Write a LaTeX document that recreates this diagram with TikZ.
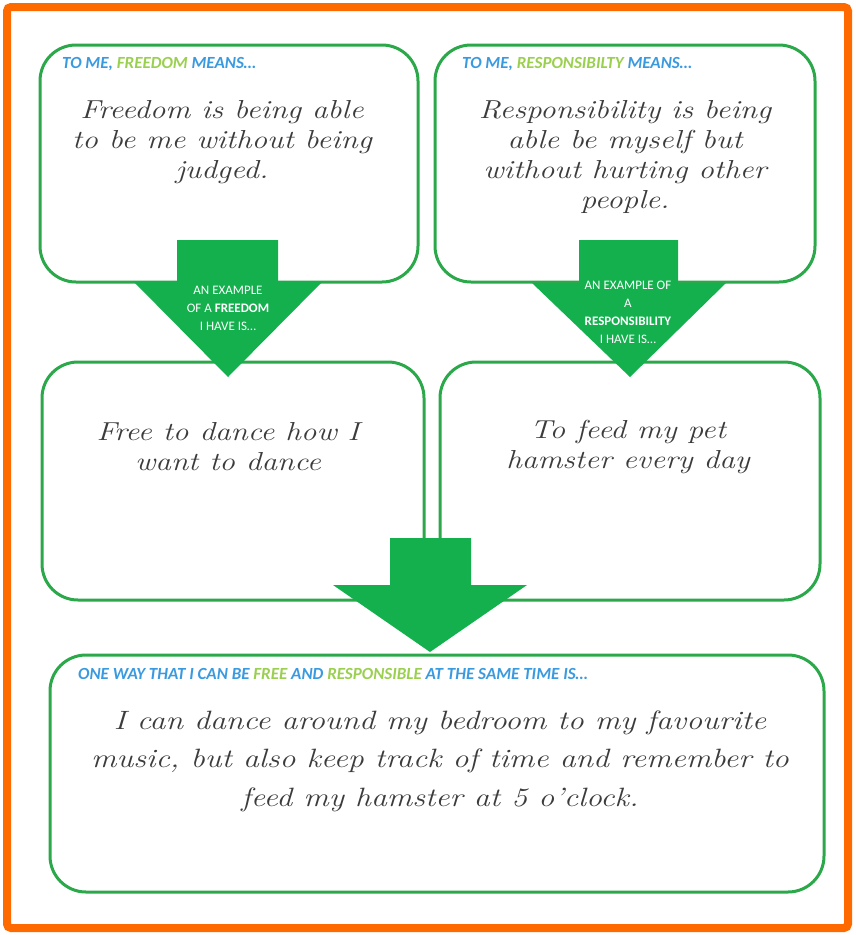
\documentclass[tikz,border=0pt]{standalone}
\usepackage{fontspec}
\newfontfamily\hdr{Carlito}
\newfontfamily\wideit{Latin Modern Roman}[FakeStretch=1.2]
\definecolor{orangeb}{HTML}{FF6A00}
\definecolor{boxg}{HTML}{2BA84A}
\definecolor{arrg}{HTML}{14B04E}
\definecolor{hblue}{HTML}{3A9AE0}
\definecolor{hgreen}{HTML}{9BCF4F}
\definecolor{txt}{HTML}{3C3C3C}
\tikzset{
  card/.style={draw=boxg, line width=3pt, rounded corners=36pt, fill=white, inner sep=0pt},
  hdrtext/.style={anchor=west, inner sep=0pt, font=\hdr\bfseries\itshape\fontsize{17}{18}\selectfont, text=hblue},
  maintext/.style={align=center, inner sep=0pt, text=txt, font=\wideit\itshape\fontsize{26}{30}\selectfont},
  bigtext/.style={align=center, inner sep=0pt, text=txt, font=\wideit\itshape\fontsize{26.5}{38.5}\selectfont},
  arrtext/.style={align=center, inner sep=0pt, text=white, font=\hdr\fontsize{13}{18}\selectfont},
  bigarrow/.style={fill=arrg, draw=none},
}
\begin{document}
\begin{tikzpicture}[x=1pt,y=-1pt]
\useasboundingbox (0,0) rectangle (855,935);
\fill[white] (0,0) rectangle (855,935);
\node[draw=orangeb, line width=8pt, rounded corners=4pt, minimum width=841pt, minimum height=921pt, inner sep=0pt] (frame) at (427.5,467.5) {};

% boxes
\node[card, minimum width=378pt, minimum height=237pt] (b1) at (229,163.5) {};
\node[card, minimum width=380pt, minimum height=237pt] (b2) at (625,163.5) {};
\node[card, minimum width=382pt, minimum height=238pt] (b3) at (233,481) {};
\node[card, minimum width=380pt, minimum height=238pt] (b4) at (630,481) {};
\node[card, minimum width=774pt, minimum height=237pt] (b5) at (437,773.5) {};

% arrows
\coordinate (a1) at (228,240);
\fill[bigarrow] (177,240) -- (278,240) -- (278,281) -- (323,281) -- (228,377) -- (133,281) -- (177,281) -- cycle;
\coordinate (a2) at (628,240);
\fill[bigarrow] (579,240) -- (678,240) -- (678,283) -- (726,283) -- (630,377) -- (532,283) -- (579,283) -- cycle;
\coordinate (a3) at (430,538);
\fill[bigarrow] (390,538) -- (471,538) -- (471,585) -- (527,585) -- (430,652) -- (333,585) -- (390,585) -- cycle;

% headers
\node[hdrtext] (h1) at (62,64) {TO ME, \textcolor{hgreen}{FREEDOM} MEANS\dots};
\node[hdrtext] (h2) at (462,64) {TO ME, \textcolor{hgreen}{RESPONSIBILTY} MEANS\dots};
\node[hdrtext] (h5) at (78,674) {ONE WAY THAT I CAN BE \textcolor{hgreen}{FREE} AND \textcolor{hgreen}{RESPONSIBLE} AT THE SAME TIME IS\dots};

% main texts
\node[maintext] (t1) at (222,142) {Freedom is being able\\to be me without being\\judged.};
\node[maintext] (t2) at (625,157) {Responsibility is being\\able be myself but\\without hurting other\\people.};
\node[maintext] (t3) at (228,447) {Free to dance how I\\want to dance};
\node[maintext] (t4) at (628,447) {To feed my pet\\hamster every day};
\node[bigtext] (t5) at (440,761) {I can dance around my bedroom to my favourite\\music, but also keep track of time and remember to\\feed my hamster at 5 o’clock.};

% arrow labels
\node[arrtext] (l1) at (228,308) {AN EXAMPLE\\OF A \textbf{FREEDOM}\\I HAVE IS\dots};
\node[arrtext] (l2) at (628,312) {AN EXAMPLE OF\\A\\\textbf{RESPONSIBILITY}\\I HAVE IS\dots};
\end{tikzpicture}
\end{document}
